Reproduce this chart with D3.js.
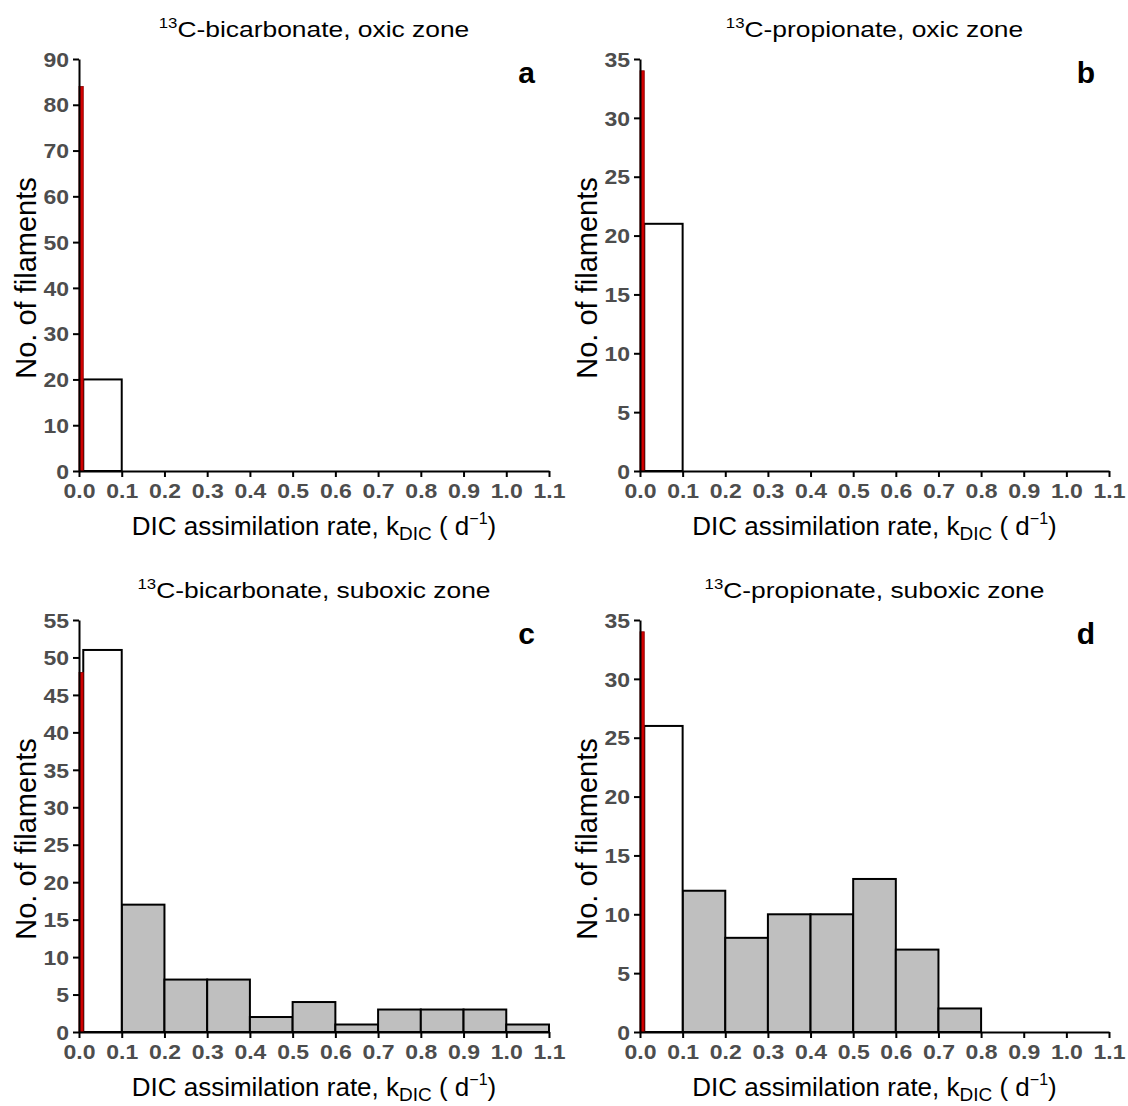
<!DOCTYPE html>
<html>
<head>
<meta charset="utf-8">
<script src="https://cdn.jsdelivr.net/npm/d3@7"></script>
<style>
body{margin:0;background:#fff;}
text{font-family:"Liberation Sans",Arial,sans-serif;}
</style>
</head>
<body>
<div id="chart"></div>
<script>
(function(){

const width = 1128;
const height = 1106;

// data
const panelLetters = ["a","b","c","d"];
const substrates = ["C-bicarbonate","C-propionate","C-bicarbonate","C-propionate"];
const zones = ["oxic zone","oxic zone","suboxic zone","suboxic zone"];
const yMaxes = [90,35,55,35];
const yTickSteps = [10,5,5,5];
const xTicks = [0.0,0.1,0.2,0.3,0.4,0.5,0.6,0.7,0.8,0.9,1.0,1.1];
const redCounts = [84,34,48,34];          // bin 0-0.01
const firstBinCounts = [20,21,51,26];     // bin 0.01-0.1
const greyBinStarts = [0.1,0.2,0.3,0.4,0.5,0.6,0.7,0.8,0.9,1.0];
const greyCountsA = [0,0,0,0,0,0,0,0,0,0];
const greyCountsB = [0,0,0,0,0,0,0,0,0,0];
const greyCountsC = [17,7,7,2,4,1,3,3,3,1];
const greyCountsD = [12,8,10,10,13,7,2,0,0,0];
const greyCounts = [greyCountsA,greyCountsB,greyCountsC,greyCountsD];

const boxes = [
  {left:79, right:549, top:59, bottom:471},
  {left:640, right:1109, top:59, bottom:471},
  {left:79, right:549, top:620, bottom:1032},
  {left:640, right:1109, top:620, bottom:1032}
];

const tickStretch = 1.15;
const titleStretch = 1.2;

const svg = d3.select("#chart")
.append("svg")
.attr("width",width)
.attr("height",height)
.attr("viewBox",`0 0 ${width} ${height}`);

panelLetters.forEach((letter,i)=>{
  const b = boxes[i];
  const g = svg.append("g");

  const x = d3.scaleLinear()
  .domain([0,1.1])
  .range([b.left,b.right]);

  const y = d3.scaleLinear()
  .domain([0,yMaxes[i]])
  .range([b.bottom,b.top]);

  // grey bars
  const bars = greyBinStarts.map((s,j)=>({x0:s,x1:s+0.1,n:greyCounts[i][j]})).filter(d=>d.n>0);
  g.selectAll("rect.grey")
  .data(bars)
  .enter()
  .append("rect")
  .attr("class","grey")
  .attr("x",d=>x(d.x0))
  .attr("y",d=>y(d.n))
  .attr("width",d=>x(d.x1)-x(d.x0))
  .attr("height",d=>y(0)-y(d.n))
  .attr("fill","#bfbfbf")
  .attr("stroke","#000")
  .attr("stroke-width",2);

  // white first bin
  g.append("rect")
  .attr("x",x(0.01))
  .attr("y",y(firstBinCounts[i]))
  .attr("width",x(0.1)-x(0.01))
  .attr("height",y(0)-y(firstBinCounts[i]))
  .attr("fill","#fff")
  .attr("stroke","#000")
  .attr("stroke-width",2);

  // red bar
  g.append("rect")
  .attr("x",x(0))
  .attr("y",y(redCounts[i]))
  .attr("width",x(0.01)-x(0))
  .attr("height",y(0)-y(redCounts[i]))
  .attr("fill","#d40000")
  .attr("stroke","#8a0000")
  .attr("stroke-width",0.8);

  // axes
  const yTicks = d3.range(0,yMaxes[i]+0.001,yTickSteps[i]);
  const yAxis = g.append("g")
  .attr("transform",`translate(${b.left},0)`)
  .call(d3.axisLeft(y).tickValues(yTicks).tickFormat(d3.format("d")).tickSize(6).tickSizeOuter(0));

  const xAxis = g.append("g")
  .attr("transform",`translate(0,${b.bottom})`)
  .call(d3.axisBottom(x).tickValues(xTicks).tickFormat(d3.format(".1f")).tickSize(6).tickSizeOuter(0));

  [yAxis,xAxis].forEach(ax=>{
    ax.select(".domain").attr("stroke","#000").attr("stroke-width",2);
    ax.selectAll(".tick line").attr("stroke","#000").attr("stroke-width",2);
    ax.selectAll(".tick text")
    .attr("fill","#4d4d4d")
    .attr("transform",`scale(${tickStretch},1)`)
    .style("font-family","'Liberation Sans',Arial,sans-serif")
    .style("font-weight","bold")
    .style("font-size","20px");
  });
  yAxis.selectAll(".tick text").attr("x",-10/tickStretch).attr("dy","0.36em");
  xAxis.selectAll(".tick text").attr("y",13).attr("dy","0.72em");

  // title
  const cx = (b.left+b.right)/2;
  const title = g.append("text")
  .attr("transform",`translate(${cx},${b.top-22}) scale(${titleStretch},1)`)
  .attr("text-anchor","middle")
  .attr("font-size",22)
  .attr("fill","#000");
  title.append("tspan").attr("font-size",14).attr("dy",-9).text("13");
  title.append("tspan").attr("dy",9).text(substrates[i]+", "+zones[i]);

  // panel letter
  g.append("text")
  .attr("x",b.right-14)
  .attr("y",b.top+24)
  .attr("text-anchor","end")
  .attr("font-size",30)
  .attr("font-weight","bold")
  .text(letter);

  // x label
  const xl = g.append("text")
  .attr("x",cx)
  .attr("y",b.bottom+64)
  .attr("text-anchor","middle")
  .attr("font-size",26);
  xl.append("tspan").text("DIC assimilation rate, k");
  xl.append("tspan").attr("font-size",19).attr("dy",5).text("DIC");
  xl.append("tspan").attr("dy",-5).text(" ( d");
  xl.append("tspan").attr("font-size",16).attr("dy",-11).text("\u22121");
  xl.append("tspan").attr("dy",11).text(")");

  // y label
  g.append("text")
  .attr("transform",`translate(${b.left-43},${(b.top+b.bottom)/2+13}) rotate(-90)`)
  .attr("text-anchor","middle")
  .attr("font-size",29)
  .text("No. of filaments");
});

})();
</script>
</body>
</html>
